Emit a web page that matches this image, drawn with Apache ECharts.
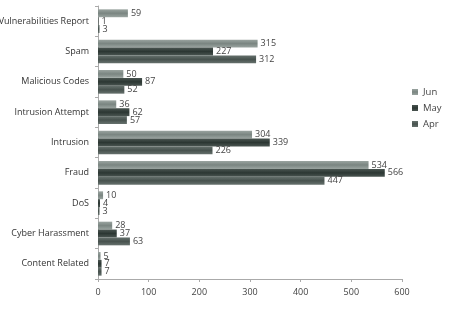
<!DOCTYPE html>
<html lang="en">
  <head>
    <meta charset="UTF-8" />
    <title>Incidents by category</title>
    <script src="https://cdn.jsdelivr.net/npm/echarts@6/dist/echarts.min.js"></script>
    <style>
      html, body { margin: 0; padding: 0; background: #fff; }
      #chart { width: 459px; height: 310px; }
    </style>
  </head>
  <body>
    <div id="chart"></div>
    <script>
      // categories, top to bottom as in the picture
      const categories = [
        "Vulnerabilities Report", "Spam", "Malicious Codes", "Intrusion Attempt",
        "Intrusion", "Fraud", "DoS", "Cyber Harassment", "Content Related"
      ];
      const jun = [59, 315, 50, 36, 304, 534, 10, 28, 5];
      const may = [1, 227, 87, 62, 339, 566, 4, 37, 7];
      const apr = [3, 312, 52, 57, 226, 447, 3, 63, 7];
      const xTicks = [0, 100, 200, 300, 400, 500, 600];

      const font = "'Open Sans', 'Liberation Sans', sans-serif";

      // soft top/bottom shading like the original bars
      function shade(edge, mid) {
        return new echarts.graphic.LinearGradient(0, 0, 0, 1, [
          { offset: 0, color: edge },
          { offset: 0.5, color: mid },
          { offset: 1, color: edge }
        ]);
      }

      function makeSeries(name, data, color) {
        return {
          name: name,
          type: "bar",
          data: data,
          barGap: "0%",
          barCategoryGap: "22%",
          itemStyle: { color: color },
          label: {
            show: true,
            position: "right",
            distance: 3,
            fontFamily: font,
            fontSize: 9,
            color: "#444"
          }
        };
      }

      const chart = echarts.init(document.getElementById("chart"));
      chart.setOption({
        animation: false,
        legend: {
          orient: "vertical",
          left: 407,
          top: 82,
          itemWidth: 6,
          itemHeight: 6,
          itemGap: 6,
          icon: "rect",
          textStyle: { fontFamily: font, fontSize: 9.5, color: "#444" },
          data: ["Jun", "May", "Apr"]
        },
        grid: {
          left: 98,
          right: 57,
          top: 6,
          bottom: 31,
          containLabel: false,
          outerBoundsMode: "none"
        },
        xAxis: {
          type: "value",
          min: 0,
          max: 600,
          interval: 100,
          splitLine: { show: false },
          axisLine: { show: true, lineStyle: { color: "#aaa" } },
          axisTick: { show: true, length: 3, lineStyle: { color: "#aaa" } },
          axisLabel: {
            fontFamily: font,
            fontSize: 9,
            color: "#444",
            margin: 9,
            formatter: (v) => (xTicks.includes(v) ? String(v) : "")
          }
        },
        yAxis: {
          type: "category",
          data: categories,
          inverse: true,
          axisLine: { show: true, lineStyle: { color: "#aaa" } },
          axisTick: { show: true, length: 3, lineStyle: { color: "#aaa" } },
          axisLabel: {
            fontFamily: font,
            fontSize: 9,
            color: "#333",
            margin: 9
          }
        },
        series: [
          makeSeries("Jun", jun, shade("#9aa4a0", "#7a8581")),
          makeSeries("May", may, shade("#4a5551", "#2c3733")),
          makeSeries("Apr", apr, shade("#66716d", "#47524e"))
        ]
      });
    </script>
  </body>
</html>
